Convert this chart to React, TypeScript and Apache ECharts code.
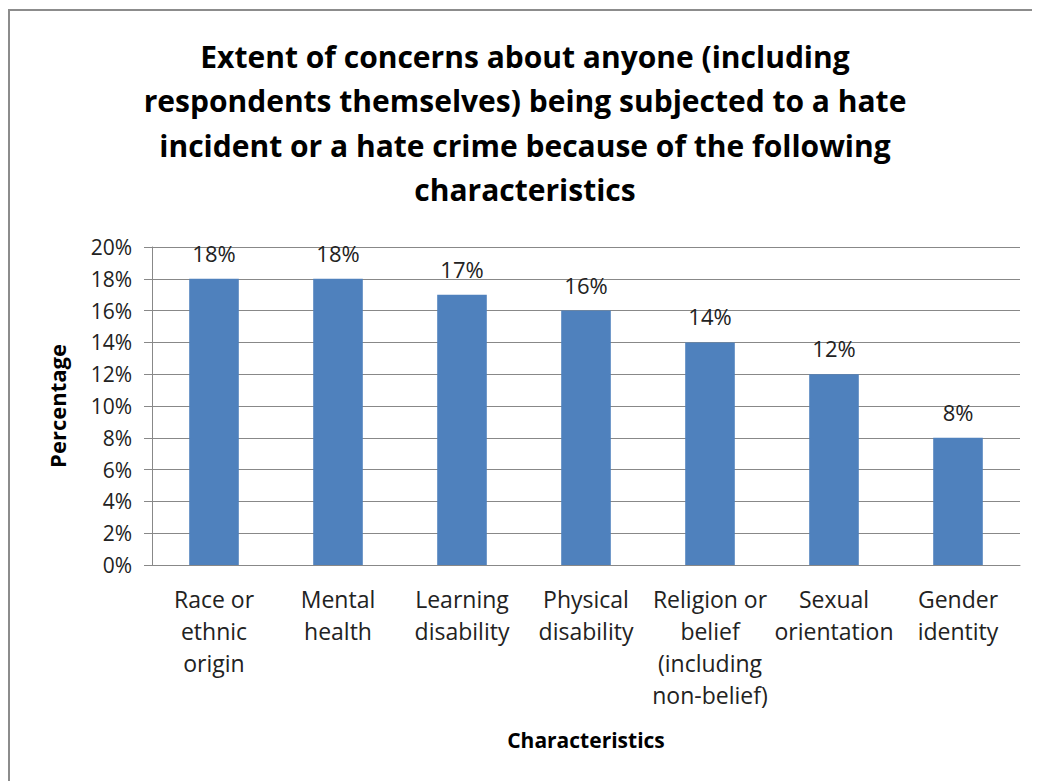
import React, { useEffect, useRef } from "react";
import * as echarts from "echarts";

const categories = [
  "Race or\nethnic\norigin",
  "Mental\nhealth",
  "Learning\ndisability",
  "Physical\ndisability",
  "Religion or\nbelief\n(including\nnon-belief)",
  "Sexual\norientation",
  "Gender\nidentity",
];
const values = [18, 18, 17, 16, 14, 12, 8];
const titleText =
  "Extent of concerns about anyone (including\nrespondents themselves) being subjected to a hate\nincident or a hate crime because of the following\ncharacteristics";

export default function App() {
  const ref = useRef<HTMLDivElement>(null);
  useEffect(() => {
    if (!ref.current) return;
    const chart = echarts.init(ref.current, null, { renderer: "svg" });
    const font = "'Open Sans', 'Noto Sans', sans-serif";
    chart.setOption({
      animation: false,
      backgroundColor: "#ffffff",
      textStyle: { fontFamily: font },
      title: {
        text: titleText,
        left: 512,
        textAlign: "center",
        top: 21,
        textStyle: {
          fontFamily: font,
          fontSize: 30,
          fontWeight: "bold",
          color: "#000",
          lineHeight: 44.5,
        },
      },
      graphic: [
        {
          type: "rect",
          shape: { x: 1, y: 2, width: 1100, height: 900 },
          style: { fill: "none", stroke: "#8c8c8c", lineWidth: 2 },
          silent: true,
        },
      ],
      grid: { left: 144, right: 20, top: 239, bottom: 216, containLabel: false },
      xAxis: {
        type: "category",
        data: categories,
        name: "Characteristics",
        nameLocation: "middle",
        nameGap: 164,
        nameTextStyle: { fontFamily: font, fontSize: 21, fontWeight: "bold", color: "#000" },
        axisLine: { lineStyle: { color: "#888", width: 1 } },
        axisTick: { show: false },
        axisLabel: {
          interval: 0,
          fontFamily: font,
          fontSize: 23,
          color: "#222",
          lineHeight: 32,
          margin: 18,
          verticalAlign: "top",
        },
      },
      yAxis: {
        type: "value",
        min: 0,
        max: 20,
        interval: 2,
        name: "Percentage",
        nameLocation: "middle",
        nameGap: 84,
        nameRotate: 90,
        nameTextStyle: { fontFamily: font, fontSize: 22, fontWeight: "bold", color: "#000" },
        axisLine: { show: true, lineStyle: { color: "#888", width: 1 } },
        axisTick: { show: true, length: 8, inside: false, lineStyle: { color: "#888" } },
        splitLine: { lineStyle: { color: "#888", width: 1 } },
        axisLabel: {
          formatter: (v: number) => v + "%",
          fontFamily: font,
          fontSize: 21,
          color: "#222",
          margin: 20,
        },
      },
      series: [
        {
          type: "bar",
          data: values,
          barWidth: "40%",
          itemStyle: { color: "#4F81BD" },
          label: {
            show: true,
            position: "top",
            distance: 15,
            formatter: (p: any) => p.value + "%",
            fontFamily: font,
            fontSize: 22,
            color: "#222",
          },
        },
      ],
    });
    return () => chart.dispose();
  }, []);
  return <div ref={ref} style={{ width: 1032, height: 773 }} />;
}
